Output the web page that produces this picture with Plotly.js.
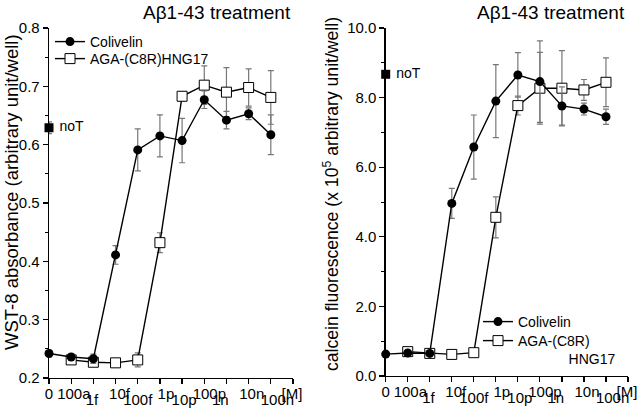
<!DOCTYPE html>
<html>
<head>
<meta charset="utf-8">
<script src="https://cdn.plot.ly/plotly-3.0.1.min.js"></script>
<style>html,body{margin:0;padding:0;background:#fff;}#chart{width:640px;height:414px;}</style>
</head>
<body>
<div id="chart"></div>
<script>
// Dose categories (evenly spaced on the x axis)
const doses = ['0','100a','1f','10f','100f','1p','10p','100p','1n','10n','100n'];
const topRowDoses = ['0','100a','10f','1p','100p','10n'];
const topRowLabels = ['0','100a','10f','1p','100p','10n','[M]'];
const bottomRowDoses = ['1f','100f','10p','1n','100n'];
const bottomRowLabels = ['1f','100f','10p','1n','100n'];

// Left panel: WST-8 absorbance
const wstColivelin = [0.242, 0.236, 0.233, 0.411, 0.591, 0.615, 0.607, 0.677, 0.642, 0.653, 0.617];
const wstColivelinErr = [0.006, 0.005, 0.008, 0.016, 0.036, 0.036, 0.038, 0.015, 0.015, 0.010, 0.034];
const wstAGA = [0.231, 0.227, 0.226, 0.231, 0.432, 0.683, 0.702, 0.690, 0.698, 0.681];
const wstAGAErr = [0.005, 0.006, 0.004, 0.012, 0.017, 0.008, 0.033, 0.042, 0.032, 0.046];
const wstNoT = 0.629, wstNoTErr = 0.010;

// Right panel: calcein fluorescence (x 10^5)
const calColivelin = [0.63, 0.66, 0.65, 4.96, 6.58, 7.90, 8.65, 8.46, 7.76, 7.67, 7.45];
const calColivelinErr = [0.05, 0.05, 0.05, 0.43, 0.92, 1.05, 0.64, 1.17, 0.55, 0.17, 0.22];
const calAGA = [0.70, 0.65, 0.62, 0.67, 4.56, 7.77, 8.27, 8.27, 8.22, 8.44];
const calAGAErr = [0.05, 0.05, 0.05, 0.05, 0.59, 0.27, 1.03, 1.08, 0.30, 0.70];
const calNoT = 8.67, calNoTErr = 0.05;

const seriesNames = ['Colivelin', 'AGA-(C8R)HNG17'];
const NB = '\u00A0';

// positions of the doses along the axis
const xAll = doses.map((d, i) => i);
const xAGA = doses.slice(1).map(d => doses.indexOf(d));
const tickAll = xAll.concat([doses.length]);

// small horizontal nudges of the tick labels (layout only), as in the original figure
const topNudge = [0, 0.12, 0.18, 0.27, 0.23, 0.14, -0.05];
const bottomNudge = [-0.06, 0.0, 0.09, -0.28, 0.3];
const xTopLab = topRowDoses.map(d => doses.indexOf(d)).concat([doses.length]).map((v, i) => v + topNudge[i]);
const xBotLab = bottomRowDoses.map(d => doses.indexOf(d)).map((v, i) => v + bottomNudge[i]);

const FONT = 'Liberation Sans, Arial, sans-serif';
const errStyle = {type: 'data', visible: true, color: '#777', thickness: 1.2, width: 3};

function circleTrace(x, y, e, xa, ya, name, leg) {
  return {x: x, y: y, type: 'scatter', mode: 'lines+markers', name: name, legend: leg,
    xaxis: xa, yaxis: ya, cliponaxis: false,
    line: {color: '#000', width: 1.4},
    marker: {symbol: 'circle', size: 9, color: '#000'},
    error_y: Object.assign({array: e}, errStyle)};
}
function squareTrace(x, y, e, xa, ya, name, leg) {
  return {x: x, y: y, type: 'scatter', mode: 'lines+markers', name: name, legend: leg,
    xaxis: xa, yaxis: ya, cliponaxis: false,
    line: {color: '#000', width: 1.4},
    marker: {symbol: 'square', size: 10, color: '#fff', line: {color: '#000', width: 1}},
    error_y: Object.assign({array: e}, errStyle)};
}
function noTTrace(y, e, xa, ya) {
  return {x: [0], y: [y], type: 'scatter', mode: 'markers+text', text: [NB + 'noT'],
    textposition: 'middle right', textfont: {family: FONT, size: 14, color: '#000'},
    xaxis: xa, yaxis: ya, cliponaxis: false, showlegend: false,
    marker: {symbol: 'square', size: 9, color: '#000'},
    error_y: Object.assign({array: [e]}, errStyle)};
}

const data = [
  squareTrace(xAGA, wstAGA, wstAGAErr, 'x', 'y', seriesNames[1], 'legend3'),
  circleTrace(xAll, wstColivelin, wstColivelinErr, 'x3', 'y', seriesNames[0], 'legend'),
  noTTrace(wstNoT, wstNoTErr, 'x5', 'y'),
  squareTrace(xAGA, calAGA, calAGAErr, 'x2', 'y2', 'AGA-(C8R)<br>' + NB.repeat(13) + 'HNG17', 'legend4'),
  circleTrace(xAll, calColivelin, calColivelinErr, 'x4', 'y2', seriesNames[0], 'legend2'),
  noTTrace(calNoT, calNoTErr, 'x6', 'y2')
];

const W = 640, H = 414;
const px = v => v / W, py = v => 1 - v / H;
const tickFont = {family: FONT, size: 15, color: '#000'};

function tickX(domain, anchor) {
  return {domain: domain, anchor: anchor, range: [0, 11], showgrid: false, zeroline: false,
    showline: true, linecolor: '#000', linewidth: 1.3, ticks: 'outside', ticklen: 5,
    tickwidth: 1.2, tickcolor: '#000', tickmode: 'array', tickvals: tickAll,
    showticklabels: false, fixedrange: true};
}
function labelX(over, anchor, vals, text, standoff) {
  return {overlaying: over, anchor: anchor, range: [0, 11], showgrid: false, zeroline: false,
    showline: false, ticks: '', tickmode: 'array', tickvals: vals, ticktext: text,
    tickangle: 0, ticklabelstandoff: standoff, tickfont: tickFont, fixedrange: true};
}
function mainY(domain, anchor, range, dtick, minor) {
  return {domain: domain, anchor: anchor, range: range, dtick: dtick, tick0: 0, tickformat: '.1f',
    showgrid: false, zeroline: false, showline: true, linecolor: '#000', linewidth: 1.3,
    ticks: 'outside', ticklen: 5, tickwidth: 1.2, tickcolor: '#000',
    minor: {dtick: minor, ticks: 'outside', ticklen: 3, tickcolor: '#000', tickwidth: 1, showgrid: false},
    tickfont: tickFont, fixedrange: true};
}
function leg(x, yTop, valign) {
  return {x: px(x), y: py(yTop), xanchor: 'left', yanchor: 'top', bgcolor: 'rgba(0,0,0,0)',
    font: {family: FONT, size: 14, color: '#000'}, itemwidth: 30, valign: valign || 'middle'};
}

const layout = {
  width: W, height: H, margin: {l: 0, r: 0, t: 0, b: 0},
  paper_bgcolor: '#fff', plot_bgcolor: 'rgba(0,0,0,0)',
  font: {family: FONT, color: '#000'},
  xaxis: tickX([px(49), px(293)], 'y'),
  xaxis3: labelX('x', 'y', xTopLab, topRowLabels, 5),
  xaxis5: labelX('x', 'y', xBotLab, bottomRowLabels, 11),
  yaxis: mainY([py(378), py(28)], 'x', [0.2, 0.8], 0.1, 0.05),
  xaxis2: tickX([px(385.7), px(628)], 'y2'),
  xaxis4: labelX('x2', 'y2', xTopLab, topRowLabels, 5),
  xaxis6: labelX('x2', 'y2', xBotLab, bottomRowLabels, 11),
  yaxis2: mainY([py(376), py(28)], 'x2', [0, 10], 2, 1),
  legend: leg(50, 26),
  legend3: leg(50, 43),
  legend2: leg(478, 306),
  legend4: leg(478, 325, 'top'),
  annotations: [
    {text: 'A\u03B21-43 treatment', xref: 'paper', yref: 'paper', x: px(216.5), y: py(12),
      xanchor: 'center', yanchor: 'middle', showarrow: false, font: {family: FONT, size: 19, color: '#000'}},
    {text: 'A\u03B21-43 treatment', xref: 'paper', yref: 'paper', x: px(551), y: py(12),
      xanchor: 'center', yanchor: 'middle', showarrow: false, font: {family: FONT, size: 19, color: '#000'}},
    {text: 'WST-8 absorbance (arbitrary unit/well)', xref: 'paper', yref: 'paper', x: px(11), y: py(192),
      xanchor: 'center', yanchor: 'middle', textangle: -90, showarrow: false, font: {family: FONT, size: 18.5, color: '#000'}},
    {text: 'calcein fluorescence (x 10<sup>5</sup> arbitrary unit/well)', xref: 'paper', yref: 'paper', x: px(331), y: py(194),
      xanchor: 'center', yanchor: 'middle', textangle: -90, showarrow: false, font: {family: FONT, size: 17.6, color: '#000'}}
  ]
};

Plotly.newPlot('chart', data, layout, {displayModeBar: false, staticPlot: true});
</script>
</body>
</html>
